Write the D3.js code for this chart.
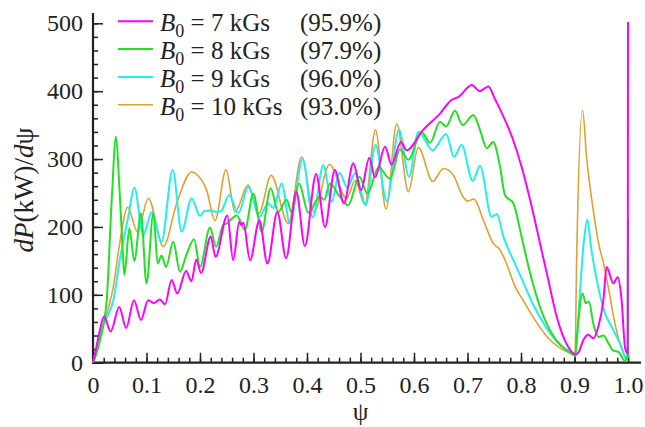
<!DOCTYPE html>
<html>
<head>
<meta charset="utf-8">
<script src="https://cdn.jsdelivr.net/npm/d3@7"></script>
<style>
  body { margin: 0; background: #fff; }
  svg { display: block; }
  svg text { font-family: "Liberation Serif", Tinos, "Times New Roman", Times, "DejaVu Serif", FreeSerif, serif; }
</style>
</head>
<body>
<div id="chart"></div>
<script>
// dP/dpsi (kW) vs psi
const b7 = [
  [0,0],[0.006,22],[0.012,45],[0.0206,68],[0.033,46],[0.049,82],[0.062,51],[0.0766,92],[0.0897,63],
  [0.103,92],[0.114,88],[0.125,93],[0.1346,86],[0.147,122],[0.1576,102],[0.174,135],[0.184,120],
  [0.193,152],[0.202,132],[0.22,186],[0.229,156],[0.251,217],[0.262,151],[0.2735,208],[0.277,203],
  [0.281,206],[0.2935,151],[0.311,210],[0.326,146],[0.3445,222],[0.361,154],[0.38,252],[0.396,172],
  [0.417,278],[0.4336,200],[0.452,284],[0.469,235],[0.4866,294],[0.501,254],[0.5165,302],[0.527,273],
  [0.546,318],[0.558,292],[0.5757,325],[0.586,313],[0.617,343],[0.6486,367],[0.67,387],[0.684,392],
  [0.708,409],[0.723,400],[0.739,407],[0.751,389],[0.767,363],[0.7826,334],[0.801,289],[0.82,230],
  [0.8355,176],[0.851,122],[0.8667,68],[0.882,33],[0.8977,14],[0.902,12],[0.908,16],[0.9165,33],
  [0.926,41],[0.935,36],[0.9445,53],[0.954,92],[0.96,141],[0.9726,117],[0.9807,126],[0.9875,97],
  [0.995,20],[0.9995,14],[1.0,502]
];
const b8 = [
  [0,0],[0.006,12],[0.013,33],[0.0256,92],[0.035,240],[0.043,333],[0.049,264],[0.0555,166],[0.0586,129],
  [0.068,198],[0.0772,150],[0.0897,220],[0.1,117],[0.1128,220],[0.121,146],[0.128,158],[0.1365,141],
  [0.15,178],[0.1626,134],[0.175,160],[0.189,182],[0.2,141],[0.2187,199],[0.23,171],[0.2436,203],
  [0.25,205],[0.2686,217],[0.284,196],[0.2996,249],[0.3153,193],[0.332,257],[0.3464,222],[0.362,240],
  [0.371,222],[0.385,264],[0.4025,221],[0.424,245],[0.432,240],[0.443,264],[0.46,246],[0.477,232],
  [0.498,274],[0.513,249],[0.534,288],[0.555,271],[0.574,314],[0.5895,299],[0.614,340],[0.63,324],
  [0.6486,355],[0.66,348],[0.6766,371],[0.691,350],[0.711,365],[0.7234,343],[0.736,316],[0.748,325],
  [0.7607,289],[0.77,247],[0.779,240],[0.7857,235],[0.801,186],[0.817,132],[0.8355,82],[0.854,48],
  [0.876,24],[0.897,12],[0.901,10],[0.905,43],[0.915,102],[0.921,88],[0.927,90],[0.935,58],[0.945,38],
  [0.954,40],[0.964,28],[0.972,18],[0.982,16],[0.994,3],[0.9995,14],[1.0,213]
];
const b9 = [
  [0,0],[0.006,18],[0.013,43],[0.0256,66],[0.038,92],[0.05,151],[0.066,215],[0.0772,258],[0.094,188],
  [0.11,222],[0.128,178],[0.149,284],[0.1657,193],[0.1844,242],[0.2,216],[0.209,224],[0.22,224],
  [0.232,222],[0.24,224],[0.2548,247],[0.2716,220],[0.2903,259],[0.311,215],[0.3277,235],[0.337,228],
  [0.3527,264],[0.368,205],[0.392,300],[0.4106,214],[0.4305,291],[0.446,237],[0.4604,280],[0.4754,258],
  [0.49,279],[0.51,232],[0.528,321],[0.549,238],[0.572,343],[0.5907,274],[0.608,340],[0.635,313],
  [0.66,337],[0.675,303],[0.689,321],[0.7097,268],[0.7234,290],[0.745,215],[0.755,219],[0.767,186],
  [0.7857,151],[0.804,119],[0.823,85],[0.848,51],[0.8735,26],[0.897,13],[0.901,10],[0.91,102],
  [0.9178,181],[0.924,211],[0.931,170],[0.9415,122],[0.957,73],[0.9726,48],[0.988,23],[0.996,6],
  [0.9995,8],[1.0,105]
];
const b10 = [
  [0,0],[0.006,18],[0.013,40],[0.0256,71],[0.038,112],[0.05,176],[0.0648,229],[0.083,193],[0.1035,242],
  [0.1315,171],[0.1565,235],[0.1844,281],[0.197,275],[0.2125,254],[0.228,209],[0.2486,284],[0.2654,222],
  [0.29,262],[0.31,220],[0.333,276],[0.365,205],[0.39,303],[0.413,222],[0.442,292],[0.474,242],
  [0.49,268],[0.508,233],[0.528,343],[0.5477,226],[0.5677,352],[0.5895,252],[0.608,317],[0.635,267],
  [0.655,286],[0.673,277],[0.692,244],[0.7,238],[0.712,241],[0.7296,210],[0.748,176],[0.761,166],
  [0.773,146],[0.789,112],[0.804,92],[0.826,63],[0.851,36],[0.876,20],[0.897,12],[0.901,10],[0.904,151],
  [0.915,372],[0.923,299],[0.935,225],[0.945,176],[0.954,147],[0.963,112],[0.973,68],[0.985,28],
  [0.994,10],[1.0,2]
];

const fieldLabels = ["7", "8", "9", "10"];
const efficiency = ["(95.9%)", "(97.9%)", "(96.0%)", "(93.0%)"];
const colors = ["#ff00ff", "#22e022", "#22eeee", "#e3a030"];
const seriesData = [b7, b8, b9, b10];

const xTicks = [0, 0.1, 0.2, 0.3, 0.4, 0.5, 0.6, 0.7, 0.8, 0.9, 1.0];
const xTickLabels = ["0", "0.1", "0.2", "0.3", "0.4", "0.5", "0.6", "0.7", "0.8", "0.9", "1.0"];
const yTicks = [0, 100, 200, 300, 400, 500];

const width = 645, height = 427;
const serif = "Liberation Serif, Tinos, Times New Roman, Times, DejaVu Serif, FreeSerif, serif";
const x = d3.scaleLinear().domain([0, 1]).range([93, 628]);
const y = d3.scaleLinear().domain([0, 500]).range([362.7, 23.3]);

const svg = d3.select("#chart").append("svg")
  .attr("width", width).attr("height", height)
  .attr("font-family", serif);

const ink = "#222";

// minor ticks
svg.append("g")
  .attr("transform", `translate(0,${y(0)})`)
  .call(d3.axisBottom(x).tickValues(d3.range(0, 51).map(i => i / 50)).tickSize(-5).tickFormat(""))
  .call(g => g.select(".domain").remove())
  .call(g => g.selectAll("line").attr("stroke", ink).attr("stroke-width", 1.5));
svg.append("g")
  .attr("transform", `translate(${x(0)},0)`)
  .call(d3.axisLeft(y).tickValues(d3.range(0, 26).map(i => i * 20)).tickSize(-5).tickFormat(""))
  .call(g => g.select(".domain").remove())
  .call(g => g.selectAll("line").attr("stroke", ink).attr("stroke-width", 1.5));

// major ticks + labels
svg.append("g")
  .attr("transform", `translate(0,${y(0)})`)
  .call(d3.axisBottom(x).tickValues(xTicks).tickSize(-10).tickPadding(13)
    .tickFormat((d, i) => xTickLabels[i]))
  .attr("font-family", null)
  .call(g => g.select(".domain").remove())
  .call(g => g.selectAll("line").attr("stroke", ink).attr("stroke-width", 1.5))
  .call(g => g.selectAll("text").attr("fill", ink).attr("font-size", 24));
svg.append("g")
  .attr("transform", `translate(${x(0)},0)`)
  .call(d3.axisLeft(y).tickValues(yTicks).tickSize(-10).tickPadding(10))
  .attr("font-family", null)
  .call(g => g.select(".domain").remove())
  .call(g => g.selectAll("line").attr("stroke", ink).attr("stroke-width", 1.5))
  .call(g => g.selectAll("text").attr("fill", ink).attr("font-size", 24));

// axis lines
svg.append("line")
  .attr("x1", x(0)).attr("x2", x(0)).attr("y1", y(0) + 1).attr("y2", 13)
  .attr("stroke", ink).attr("stroke-width", 2.2);
svg.append("line")
  .attr("x1", x(0) - 1).attr("x2", 641).attr("y1", y(0)).attr("y2", y(0))
  .attr("stroke", ink).attr("stroke-width", 2.2);

// curves
const line = d3.line()
  .x(d => x(d[0]))
  .y(d => y(d[1]))
  .curve(d3.curveMonotoneX);

const order = [3, 2, 1, 0];
svg.append("g").selectAll("path")
  .data(order)
  .join("path")
  .attr("d", i => line(seriesData[i]))
  .attr("fill", "none")
  .attr("stroke", i => colors[i])
  .attr("stroke-width", i => i === 3 ? 1.6 : 2)
  .attr("stroke-linejoin", "round");

// legend
const legend = svg.append("g");
fieldLabels.forEach((f, i) => {
  const ry = 21.3 + i * 27.8;
  legend.append("line")
    .attr("x1", 118).attr("x2", 153).attr("y1", ry).attr("y2", ry)
    .attr("stroke", colors[i]).attr("stroke-width", i === 3 ? 1.6 : 2);
  const t = legend.append("text")
    .attr("x", 160).attr("y", ry + 10)
    .attr("font-size", 25).attr("fill", ink);
  t.append("tspan").attr("font-style", "italic").text("B");
  t.append("tspan").attr("font-size", 18).attr("dy", 6).text("0");
  t.append("tspan").attr("dy", -6).text(` = ${f} kGs`);
  legend.append("text")
    .attr("x", 300).attr("y", ry + 10)
    .attr("font-size", 25).attr("fill", ink)
    .text(efficiency[i]);
});

// axis titles
svg.append("text")
  .attr("x", x(0.5)).attr("y", 420)
  .attr("text-anchor", "middle").attr("font-size", 25).attr("fill", ink)
  .text("ψ");

const yl = svg.append("text")
  .attr("transform", "translate(33,190) rotate(-90)")
  .attr("text-anchor", "middle").attr("font-size", 27).attr("fill", ink);
yl.append("tspan").attr("font-style", "italic").text("dP");
yl.append("tspan").text("(kW)/");
yl.append("tspan").attr("font-style", "italic").text("d");
yl.append("tspan").text("ψ");
</script>
</body>
</html>
